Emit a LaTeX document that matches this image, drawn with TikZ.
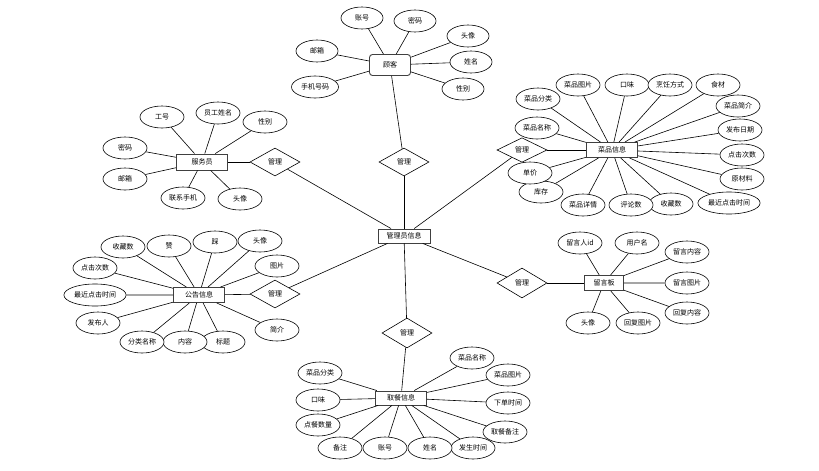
\documentclass[tikz,border=0pt]{standalone}
\usepackage{fontspec}
\newfontfamily\cjk{Noto Sans CJK SC}
\usetikzlibrary{shapes.geometric}

\tikzset{
  entity/.style={rectangle,draw=black!75,line width=0.9pt,fill=white,minimum width=51,minimum height=15,inner sep=1pt},
  attr/.style={ellipse,draw,line width=0.6pt,fill=white,minimum width=44,minimum height=22,inner sep=1pt},
  rel/.style={diamond,draw,line width=0.6pt,fill=white,minimum width=50,minimum height=28,inner sep=1pt},
  link/.style={line width=0.6pt}
}

\begin{document}
\begin{tikzpicture}[x=1pt,y=-1pt,font=\cjk\fontsize{7}{8}\selectfont]
\useasboundingbox (0,0) rectangle (819,471);
% centre
\node (admin)     at (404,236) [entity,minimum width=52,minimum height=14] {管理员信息};
\node (relTop)    at (404,162) [rel] {管理};
\node (relBottom) at (407,333) [rel,minimum height=30] {管理};
\node (relWaiter) at (275,162) [rel] {管理};
\node (relNotice) at (275,294) [rel] {管理};
\node (relDish)   at (522,150) [rel,minimum height=24] {管理};
\node (relBoard)  at (522,283) [rel,minimum height=30] {管理};
% customer
\node (customer) at (390,65) [entity,rounded corners=3pt,minimum width=41,minimum height=21] {顾客};
\node (cAcct)   at (362,18) [attr,minimum width=42] {账号};
\node (cPwd)    at (415,21) [attr,minimum width=42] {密码};
\node (cAvatar) at (468,36) [attr,minimum width=42] {头像};
\node (cName)   at (471,62) [attr,minimum width=42] {姓名};
\node (cSex)    at (463,89) [attr,minimum width=42] {性别};
\node (cMail)   at (317,51) [attr,minimum width=42] {邮箱};
\node (cPhone)  at (315,87) [attr,minimum width=47] {手机号码};
% dish
\node (dish) at (612,150) [entity] {菜品信息};
\node (dType)    at (538,99)  [attr] {菜品分类};
\node (dPic)     at (578,85)  [attr] {菜品图片};
\node (dTaste)   at (627,85)  [attr] {口味};
\node (dCook)    at (670,85)  [attr] {烹饪方式};
\node (dFood)    at (718,85)  [attr] {食材};
\node (dIntro)   at (738,106) [attr] {菜品简介};
\node (dDate)    at (740,130) [attr] {发布日期};
\node (dClicks)  at (742,155) [attr] {点击次数};
\node (dRaw)     at (742,179) [attr] {原材料};
\node (dLast)    at (729,203) [attr,minimum width=56] {最近点击时间};
\node (dFav)     at (671,204) [attr] {收藏数};
\node (dComment) at (631,205) [attr] {评论数};
\node (dDetail)  at (583,205) [attr] {菜品详情};
\node (dStock)   at (541,192) [attr] {库存};
\node (dPrice)   at (530,173) [attr] {单价};
\node (dName)    at (537,128) [attr] {菜品名称};
% waiter
\node (waiter) at (202,162) [entity,minimum height=16] {服务员};
\node (wNo)     at (162,117) [attr] {工号};
\node (wName)   at (218,113) [attr] {员工姓名};
\node (wSex)    at (265,122) [attr] {性别};
\node (wPwd)    at (125,148) [attr] {密码};
\node (wMail)   at (125,179) [attr] {邮箱};
\node (wPhone)  at (183,198) [attr] {联系手机};
\node (wAvatar) at (240,199) [attr] {头像};
% notice
\node (notice) at (199,295) [entity] {公告信息};
\node (nFav)    at (123,247) [attr] {收藏数};
\node (nUp)     at (169,246) [attr] {赞};
\node (nDown)   at (215,242) [attr] {踩};
\node (nAvatar) at (260,241) [attr] {头像};
\node (nPic)    at (277,266) [attr] {图片};
\node (nIntro)  at (277,330) [attr] {简介};
\node (nTitle)  at (223,342) [attr] {标题};
\node (nText)   at (185,342) [attr] {内容};
\node (nType)   at (142,342) [attr] {分类名称};
\node (nAuthor) at (98,323)  [attr] {发布人};
\node (nLast)   at (95,295)  [attr,minimum width=62] {最近点击时间};
\node (nClicks) at (95,268)  [attr] {点击次数};
% message board
\node (board) at (604,283) [entity,minimum width=39] {留言板};
\node (bUser)    at (580,243) [attr] {留言人id};
\node (bName)    at (637,243) [attr] {用户名};
\node (bText)    at (687,252) [attr] {留言内容};
\node (bPic)     at (687,283) [attr] {留言图片};
\node (bReply)   at (687,313) [attr] {回复内容};
\node (bReplyPic) at (638,323) [attr] {回复图片};
\node (bAvatar)  at (588,323) [attr] {头像};
% pickup
\node (pickup) at (401,398) [entity,minimum height=14] {取餐信息};
\node (pName)    at (472,358) [attr] {菜品名称};
\node (pPic)     at (508,375) [attr] {菜品图片};
\node (pTime)    at (508,403) [attr] {下单时间};
\node (pRemark)  at (505,432) [attr] {取餐备注};
\node (pHappen)  at (473,448) [attr] {发生时间};
\node (pUser)    at (430,448) [attr] {姓名};
\node (pAcct)    at (385,448) [attr] {账号};
\node (pNote)    at (340,448) [attr] {备注};
\node (pCount)   at (318,425) [attr] {点餐数量};
\node (pTaste)   at (318,400) [attr] {口味};
\node (pType)    at (320,373) [attr] {菜品分类};
% relationships
\draw [link] (customer) to (relTop);
\draw [link] (relTop) to (admin);
\draw [link] (admin) to (relBottom);
\draw [link] (relBottom) to (pickup);
\draw [link] (admin) to (relWaiter);
\draw [link] (relWaiter) to (waiter);
\draw [link] (admin) to (relNotice);
\draw [link] (relNotice) to (notice);
\draw [link] (admin) to (relDish);
\draw [link] (relDish) to (dish);
\draw [link] (admin) to (relBoard);
\draw [link] (relBoard) to (board);
% attributes
\draw [link] (customer) to (cAcct) (customer) to (cPwd) (customer) to (cAvatar)
  (customer) to (cName) (customer) to (cSex) (customer) to (cMail) (customer) to (cPhone);
\draw [link] (dish) to (dType) (dish) to (dPic) (dish) to (dTaste) (dish) to (dCook)
  (dish) to (dFood) (dish) to (dIntro) (dish) to (dDate) (dish) to (dClicks)
  (dish) to (dRaw) (dish) to (dLast) (dish) to (dFav) (dish) to (dComment)
  (dish) to (dDetail) (dish) to (dStock) (dish) to (dPrice) (dish) to (dName);
\draw [link] (waiter) to (wNo) (waiter) to (wName) (waiter) to (wSex) (waiter) to (wPwd)
  (waiter) to (wMail) (waiter) to (wPhone) (waiter) to (wAvatar);
\draw [link] (notice) to (nFav) (notice) to (nUp) (notice) to (nDown) (notice) to (nAvatar)
  (notice) to (nPic) (notice) to (nIntro) (notice) to (nTitle) (notice) to (nText)
  (notice) to (nType) (notice) to (nAuthor) (notice) to (nLast) (notice) to (nClicks);
\draw [link] (board) to (bUser) (board) to (bName) (board) to (bText) (board) to (bPic)
  (board) to (bReply) (board) to (bReplyPic) (board) to (bAvatar);
\draw [link] (pickup) to (pName) (pickup) to (pPic) (pickup) to (pTime) (pickup) to (pRemark)
  (pickup) to (pHappen) (pickup) to (pUser) (pickup) to (pAcct) (pickup) to (pNote)
  (pickup) to (pCount) (pickup) to (pTaste) (pickup) to (pType);
\end{tikzpicture}
\end{document}
